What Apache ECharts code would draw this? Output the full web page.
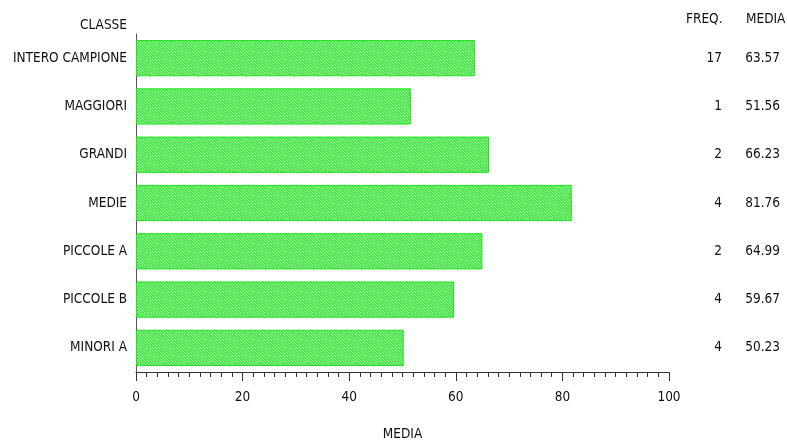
<!DOCTYPE html>
<html><head><meta charset="utf-8">
<script src="https://cdn.jsdelivr.net/npm/echarts@6/dist/echarts.min.js"></script>
<style>html,body{margin:0;padding:0;background:#fff}#c{width:787px;height:444px}</style>
</head><body><div id="c"></div>
<script>
const categories = ['INTERO CAMPIONE','MAGGIORI','GRANDI','MEDIE','PICCOLE A','PICCOLE B','MINORI A'];
const freq = [17,1,2,4,2,4,4];
const media = [63.57,51.56,66.23,81.76,64.99,59.67,50.23];
const xTicks = [0,20,40,60,80,100];

const FONT = '"DejaVu Sans Condensed", "Liberation Sans Narrow", sans-serif';
const FS = 13.5;
const pc = document.createElement('canvas');
pc.width = 6; pc.height = 6;
const g = pc.getContext('2d');
g.fillStyle = '#3cf03c'; g.fillRect(0,0,6,6);
g.strokeStyle = '#b8ffb8'; g.lineWidth = 1;
g.beginPath();
for (let k=-6;k<=12;k+=3){ g.moveTo(k,0); g.lineTo(k+6,6); }
g.stroke();

const chart = echarts.init(document.getElementById('c'));
chart.setOption({
  animation:false,
  textStyle:{fontFamily:FONT},
  grid:{left:136,right:118,top:34,bottom:72,outerBoundsMode:'none',containLabel:false},
  xAxis:{type:'value',min:0,max:100,interval:20,
    axisLine:{show:true,lineStyle:{color:'#333'}},
    axisTick:{show:true,length:9,lineStyle:{color:'#333'}},
    minorTick:{show:true,splitNumber:10,length:5,lineStyle:{color:'#333'}},
    splitLine:{show:false},
    axisLabel:{margin:18,fontSize:FS,color:'#111',fontFamily:FONT,
      formatter:v=>xTicks.includes(v)?String(v):''},
    name:'MEDIA',nameLocation:'middle',nameGap:55,
    nameTextStyle:{fontSize:FS,color:'#111',fontFamily:FONT}},
  yAxis:[{type:'category',data:categories,inverse:true,
    axisLine:{show:true,lineStyle:{color:'#555'}},
    axisTick:{show:false},
    axisLabel:{margin:9,fontSize:FS,color:'#111',fontFamily:FONT}},
   {type:'category',data:categories,inverse:true,position:'right',
    axisLine:{show:false},axisTick:{show:false},
    axisLabel:{margin:0,fontSize:FS,color:'#111',fontFamily:FONT,
      formatter:(v,i)=>'{f|'+freq[i]+'}{m|'+media[i].toFixed(2)+'}',
      rich:{f:{width:53,align:'right',fontSize:FS,fontFamily:FONT,color:'#111'},
            m:{width:58,align:'right',fontSize:FS,fontFamily:FONT,color:'#111'}}}}],
  graphic:[
    {type:'text',right:660,top:18,style:{text:'CLASSE',font:FS+'px '+FONT,fill:'#111',textAlign:'right'}},
    {type:'text',left:686,top:12,style:{text:'FREQ.',font:FS+'px '+FONT,fill:'#111'}},
    {type:'text',left:746,top:12,style:{text:'MEDIA',font:FS+'px '+FONT,fill:'#111'}}
  ],
  series:[{type:'bar',data:media,barCategoryGap:'25%',
    itemStyle:{color:{image:pc,repeat:'repeat'},borderColor:'#1ee01e',borderWidth:1}}]
});
</script></body></html>
